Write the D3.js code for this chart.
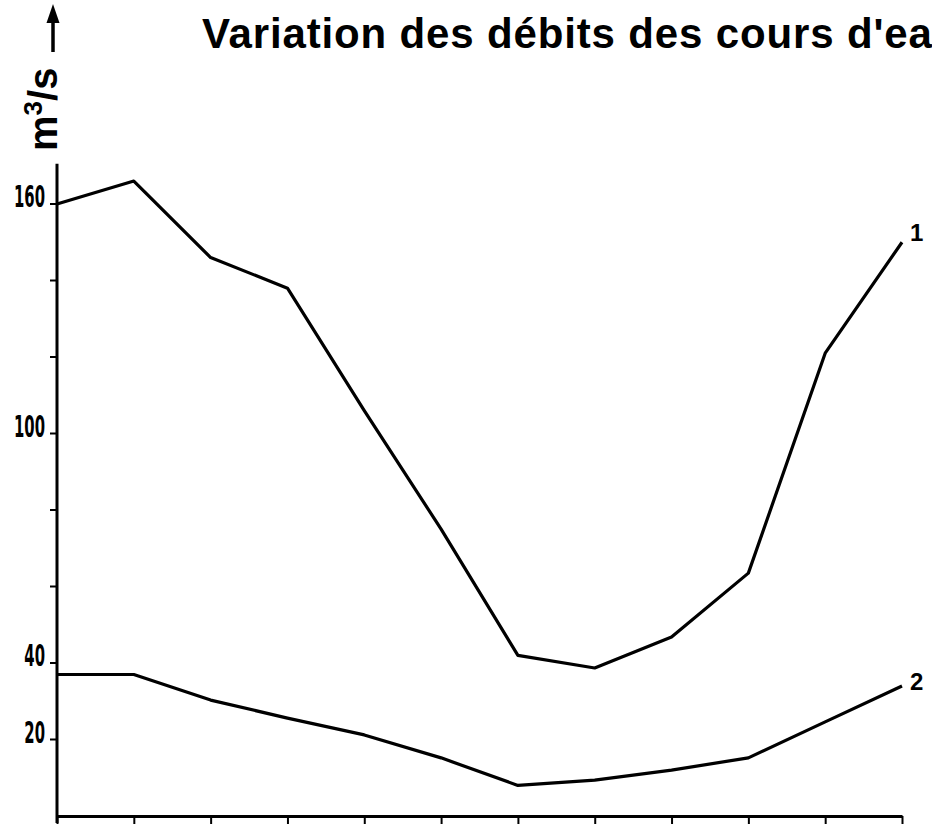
<!DOCTYPE html>
<html>
<head>
<meta charset="utf-8">
<script src="https://cdn.jsdelivr.net/npm/d3@7"></script>
<style>
  body { margin: 0; background: #fff; }
  svg { display: block; }
</style>
</head>
<body>
<div id="chart"></div>
<script>
// monthly discharge (m3/s) of two rivers
var months = [1, 2, 3, 4, 5, 6, 7, 8, 9, 10, 11, 12];
var river1 = [160, 166, 146, 138, 106, 75, 42, 38.7, 46.8, 63.5, 121, 150];
var river2 = [37, 37, 30.3, 25.6, 21.2, 15.2, 8, 9.4, 12, 15.2, 24.6, 34];
var seriesNames = ["1", "2"];
var yTicks = [20, 40, 60, 80, 100, 120, 140, 160];
var yTickLabels = [20, 40, 100, 160];
var title = "Variation des débits des cours d'ea";

var svgWidth = 932;
var svgHeight = 833;

var svg = d3.select("#chart")
    .append("svg")
    .attr("width", svgWidth)
    .attr("height", svgHeight);

var xscale = d3.scalePoint()
    .domain(months)
    .range([57, 902]);

var yscale = d3.scaleLinear()
    .domain([0, 160])
    .range([816, 204]);

// title
svg.append("text")
    .attr("x", 202)
    .attr("y", 48)
    .style("font", "bold 42px 'Liberation Sans', Arial, sans-serif")
    .style("letter-spacing", "0.85px")
    .text(title);

// x axis with ticks pointing down
var xAxis = d3.axisBottom(xscale)
    .tickSize(8)
    .tickSizeOuter(0)
    .tickFormat("");

var gx = svg.append("g")
    .attr("transform", `translate(0, ${yscale(0)})`)
    .call(xAxis);
gx.select(".domain").attr("stroke-width", 3);
gx.selectAll(".tick line").attr("stroke-width", 2);

// y axis line, runs a bit past 0 and 160
svg.append("line")
    .attr("x1", xscale(1))
    .attr("x2", xscale(1))
    .attr("y1", yscale(0) + 7)
    .attr("y2", yscale(170.5))
    .attr("stroke", "black")
    .attr("stroke-width", 3);

// small y ticks
svg.selectAll(".ytick")
    .data(yTicks)
    .enter()
    .append("line")
    .attr("class", "ytick")
    .attr("x1", xscale(1) - 7)
    .attr("x2", xscale(1))
    .attr("y1", d => yscale(d))
    .attr("y2", d => yscale(d))
    .attr("stroke", "black")
    .attr("stroke-width", 2);

// condensed tick labels
svg.selectAll(".ylabel")
    .data(yTickLabels)
    .enter()
    .append("text")
    .attr("class", "ylabel")
    .attr("transform", d => `translate(45, ${yscale(d) + 3}) scale(0.55, 1)`)
    .attr("text-anchor", "end")
    .style("font", "bold 30px 'Liberation Sans Narrow', 'DejaVu Sans Condensed', sans-serif")
    .text(d => d);

// axis title m3/s with arrow
var ylab = svg.append("g")
    .attr("transform", "translate(57, 151) rotate(-90)");

var yt = ylab.append("text")
    .style("font", "bold 40px 'Liberation Sans', Arial, sans-serif");
yt.append("tspan").text("m");
yt.append("tspan")
    .attr("dy", -15)
    .style("font-size", "26px")
    .text("3");
yt.append("tspan")
    .attr("dy", 15)
    .text("/s");

ylab.append("line")
    .attr("x1", 99)
    .attr("x2", 132)
    .attr("y1", -4)
    .attr("y2", -4)
    .attr("stroke", "black")
    .attr("stroke-width", 3.5);

ylab.append("path")
    .attr("d", "M128,-10.5 L147,-4 L128,2.5 Z")
    .attr("fill", "black");

// river lines
var line = d3.line()
    .x((d, i) => xscale(months[i]))
    .y(d => yscale(d));

[river1, river2].forEach(function (vals, k) {
    svg.append("path")
        .datum(vals)
        .attr("d", line)
        .attr("fill", "none")
        .attr("stroke", "black")
        .attr("stroke-width", 3.2)
        .attr("stroke-linejoin", "round");

    svg.append("text")
        .attr("x", xscale(12) + 8)
        .attr("y", yscale(vals[11]) + (k == 0 ? -1 : 4))
        .style("font", "bold 24px 'Liberation Sans', Arial, sans-serif")
        .text(seriesNames[k]);
});
</script>
</body>
</html>
